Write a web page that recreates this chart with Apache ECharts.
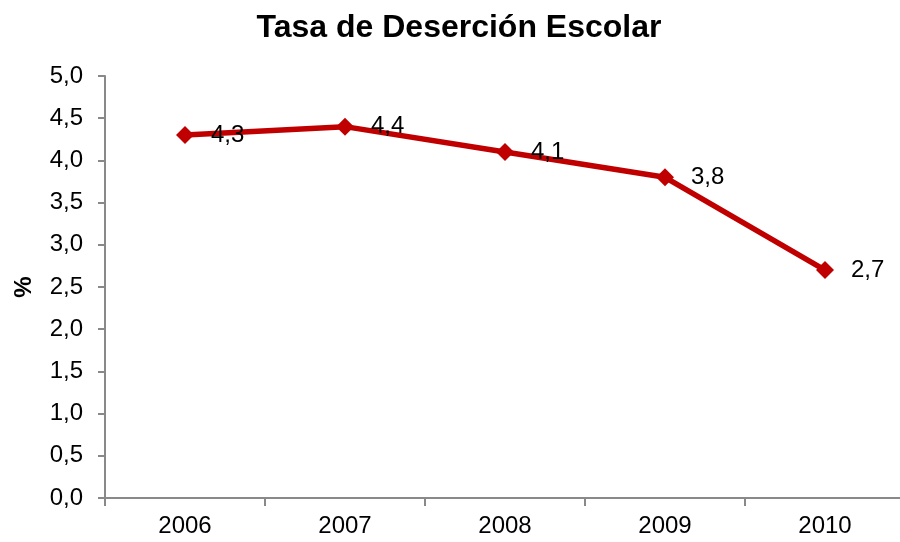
<!DOCTYPE html>
<html>
<head>
<meta charset="utf-8">
<script src="https://cdn.jsdelivr.net/npm/echarts@6/dist/echarts.min.js"></script>
<style>
  html, body { margin: 0; padding: 0; background: #fff; }
  #chart { width: 900px; height: 542px; }
</style>
</head>
<body>
<div id="chart"></div>
<script>
  // datos
  const years = ["2006", "2007", "2008", "2009", "2010"];
  const tasa = [4.3, 4.4, 4.1, 3.8, 2.7];

  const fmt = v => v.toFixed(1).replace(".", ",");

  const chart = echarts.init(document.getElementById("chart"));
  chart.setOption({
    animation: false,
    textStyle: { fontFamily: "Liberation Sans, Arial, sans-serif" },
    title: {
      text: "Tasa de Deserción Escolar",
      left: 454,
      textAlign: "center",
      top: 7,
      textStyle: { fontSize: 32, fontWeight: "bold", color: "#000" }
    },
    grid: { left: 105, top: 76, width: 800, height: 422, outerBoundsMode: "none", containLabel: false },
    xAxis: {
      type: "category",
      data: years,
      boundaryGap: true,
      axisLine: { lineStyle: { color: "#898989", width: 2 } },
      axisTick: { show: true, length: 8, interval: 0, lineStyle: { color: "#898989", width: 2 } },
      axisLabel: { color: "#000", fontSize: 24, margin: 16 }
    },
    yAxis: {
      type: "value",
      min: 0,
      max: 5,
      interval: 0.5,
      name: "%",
      nameLocation: "middle",
      nameGap: 69,
      nameTextStyle: { fontSize: 24, fontWeight: "bold", color: "#000" },
      splitLine: { show: false },
      axisLine: { show: true, lineStyle: { color: "#898989", width: 2 } },
      axisTick: { show: true, length: 7, lineStyle: { color: "#898989", width: 2 } },
      axisLabel: { color: "#000", fontSize: 24, margin: 22, formatter: fmt }
    },
    series: [{
      type: "line",
      data: tasa,
      symbol: "diamond",
      symbolSize: 18,
      itemStyle: { color: "#C00000" },
      lineStyle: { color: "#C00000", width: 5.5 },
      label: {
        show: true,
        position: "right",
        distance: 17,
        color: "#000",
        fontSize: 24,
        formatter: p => fmt(p.value)
      }
    }]
  });
</script>
</body>
</html>
